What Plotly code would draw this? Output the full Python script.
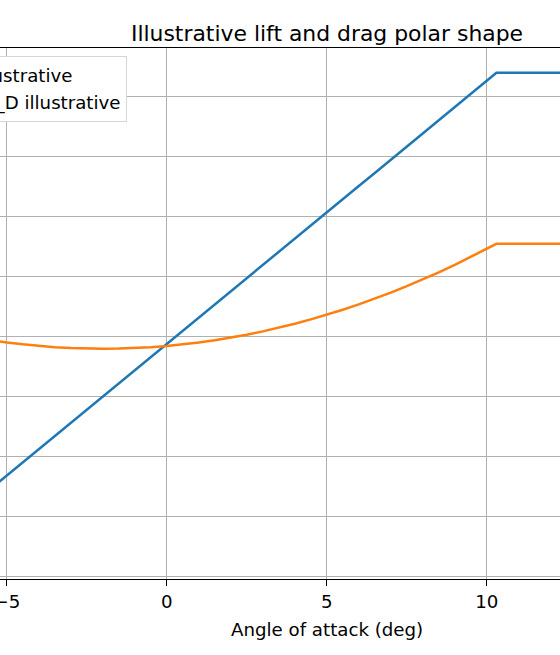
import plotly.graph_objects as go

# Angle of attack (deg)
alpha = [-8, -7.5, -7, -6.5, -6, -5.5, -5, -4.5, -4, -3.5, -3, -2.5, -2, -1.5, -1, -0.5,
         0, 0.5, 1, 1.5, 2, 2.5, 3, 3.5, 4, 4.5, 5, 5.5, 6, 6.5, 7, 7.5, 8, 8.5, 9, 9.5,
         10, 10.3, 11, 12, 13, 14, 15, 16]
# Lift coefficient (illustrative)
cl = [-0.658, -0.603, -0.549, -0.494, -0.439, -0.384, -0.329, -0.274, -0.219, -0.165,
      -0.110, -0.055, 0.000, 0.055, 0.110, 0.165, 0.219, 0.274, 0.329, 0.384, 0.439,
      0.494, 0.549, 0.603, 0.658, 0.713, 0.768, 0.823, 0.878, 0.932, 0.987, 1.042,
      1.097, 1.152, 1.206, 1.261, 1.316, 1.350, 1.350, 1.350, 1.350, 1.350, 1.350, 1.350]
# Drag coefficient x10 (illustrative)
cd10 = [0.3040, 0.2874, 0.2722, 0.2585, 0.2462, 0.2354, 0.2260, 0.2181, 0.2116, 0.2065,
        0.2029, 0.2007, 0.2000, 0.2007, 0.2029, 0.2065, 0.2116, 0.2181, 0.2260, 0.2354,
        0.2462, 0.2585, 0.2722, 0.2874, 0.3040, 0.3220, 0.3415, 0.3625, 0.3848, 0.4087,
        0.4339, 0.4606, 0.4888, 0.5184, 0.5494, 0.5819, 0.6159, 0.6369, 0.6369, 0.6369,
        0.6369, 0.6369, 0.6369, 0.6369]

names = ["C_L illustrative", "10× C_D illustrative"]
title_text = "Illustrative lift and drag polar shape"
xlabel = "Angle of attack (deg)"
xticks = [-5, 0, 5, 10, 15]
yticks = [-0.75, -0.5, -0.25, 0, 0.25, 0.5, 0.75, 1.0, 1.25]

W, H = 560, 655
T, B = 48, 76
fs = 18.2

fig = go.Figure()
fig.add_trace(go.Scatter(x=alpha, y=cl, mode="lines", name=names[0], legendgroup="a",
                         line=dict(color="#1f77b4", width=2.5)))
fig.add_trace(go.Scatter(x=alpha, y=cd10, mode="lines", name=names[1], legendgroup="b",
                         line=dict(color="#ff7f0e", width=2.5)))

plot_h = H - T - B
fig.update_layout(
    width=W, height=H,
    margin=dict(l=0, r=0, t=T, b=B, pad=0, autoexpand=False),
    plot_bgcolor="white", paper_bgcolor="white",
    font=dict(family="DejaVu Sans", size=fs, color="black"),
    title=dict(text=title_text, x=327 / W, xanchor="center",
               y=1 - 33 / H, yanchor="middle",
               font=dict(size=21.9, color="black", family="DejaVu Sans")),
    showlegend=True,
    legend=dict(x=126.7 / W, xanchor="right", y=(H - B - 56) / plot_h, yanchor="top",
                bgcolor="white", bordercolor="#d6d6d6", borderwidth=1,
                font=dict(size=fs, family="DejaVu Sans", color="black"),
                tracegroupgap=0),
    xaxis=dict(range=[-5.2125, 12.2875], tickvals=xticks, showgrid=True,
               gridcolor="#b0b0b0", gridwidth=1.3, zeroline=False,
               showline=True, linecolor="black", linewidth=1.3, mirror=True,
               ticks="outside", ticklen=6, tickwidth=1.3, tickcolor="black",
               ticklabeloverflow="allow",
               tickfont=dict(size=fs, family="DejaVu Sans", color="black")),
    yaxis=dict(range=[-0.7596, 1.4529], tickvals=yticks, showgrid=True,
               gridcolor="#b0b0b0", gridwidth=1.3, zeroline=False,
               showline=False, showticklabels=False, ticks=""),
)
fig.add_annotation(text=xlabel, xref="paper", yref="paper", x=327 / W,
                   y=-(630 - (H - B)) / plot_h, xanchor="center", yanchor="middle",
                   showarrow=False, font=dict(size=fs, family="DejaVu Sans", color="black"))

fig.write_html("out.html")
